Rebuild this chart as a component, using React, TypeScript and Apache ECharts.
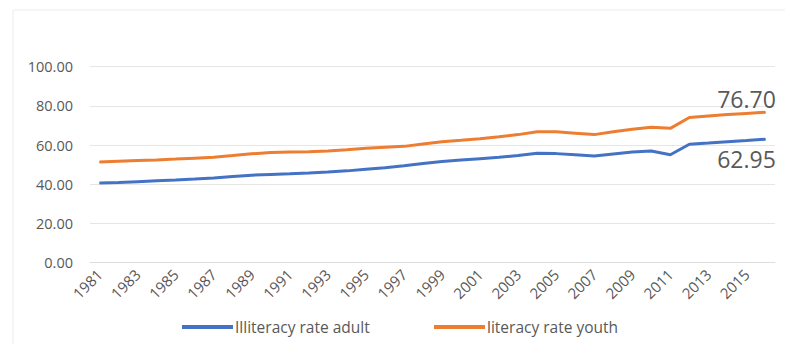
import React, { useEffect, useRef } from "react";
import * as echarts from "echarts";

const years: string[] = [];
for (let y = 1981; y <= 2016; y++) years.push(String(y));

const adultIlliteracy = [
  40.6, 40.9, 41.3, 41.7, 42.1, 42.6, 43.2, 43.9, 44.6, 45.0,
  45.3, 45.7, 46.2, 46.8, 47.6, 48.4, 49.4, 50.6, 51.6, 52.3,
  53.0, 53.7, 54.6, 55.8, 55.6, 55.0, 54.4, 55.4, 56.4, 56.9,
  55.0, 60.4, 61.0, 61.7, 62.3, 62.95,
];

const youthLiteracy = [
  51.3, 51.7, 52.1, 52.4, 52.8, 53.3, 53.8, 54.6, 55.5, 56.2,
  56.4, 56.6, 57.0, 57.6, 58.3, 58.8, 59.3, 60.5, 61.7, 62.4,
  63.2, 64.2, 65.3, 66.8, 66.7, 66.0, 65.3, 66.8, 68.0, 69.0,
  68.5, 74.0, 74.8, 75.5, 76.1, 76.7,
];

const seriesNames = ["Illiteracy rate adult", "literacy rate youth"];
const seriesColors = ["#4472C4", "#ED7D31"];

const FONT = "'Open Sans', Lato, sans-serif";
const TEXT = "#595959";

// Only the final point of each series carries a value label.
function withEndLabel(values: number[], position: "top" | "bottom", distance: number) {
  return values.map((v, i) =>
    i === values.length - 1
      ? {
          value: v,
          label: {
            show: true,
            position,
            distance,
            offset: [-19, 0],
            formatter: (p: any) => Number(p.value).toFixed(2),
            fontSize: 23,
            color: TEXT,
            fontFamily: FONT,
          },
        }
      : v
  );
}

function legendAt(left: number, name: string) {
  return {
    left,
    top: 314,
    itemWidth: 51,
    itemHeight: 4,
    itemGap: 0,
    icon: "rect",
    textStyle: { fontSize: 15.5, color: TEXT, fontFamily: FONT, padding: [0, 0, 0, -3] },
    data: [name],
  };
}

export default function App() {
  const ref = useRef<HTMLDivElement>(null);

  useEffect(() => {
    if (!ref.current) return;
    const chart = echarts.init(ref.current, undefined, { renderer: "svg" });
    chart.setOption({
      animation: false,
      backgroundColor: "#ffffff",
      textStyle: { fontFamily: FONT },
      graphic: [
        {
          type: "rect",
          shape: { x: 13, y: 10, width: 800, height: 400 },
          style: { fill: "none", stroke: "#ececec", lineWidth: 1 },
          silent: true,
        },
      ],
      grid: { left: 90, right: 10, top: 66.6, bottom: 81.4, containLabel: false },
      legend: [legendAt(177, seriesNames[0]), legendAt(429, seriesNames[1])],
      xAxis: {
        type: "category",
        data: years,
        boundaryGap: true,
        axisLine: { show: true, lineStyle: { color: "#dedede" } },
        axisTick: { show: false },
        axisLabel: {
          interval: 1,
          rotate: 45,
          fontSize: 15,
          color: TEXT,
          fontFamily: FONT,
          margin: 9,
        },
      },
      yAxis: {
        type: "value",
        min: 0,
        max: 100,
        interval: 20,
        axisLine: { show: false },
        axisTick: { show: false },
        splitLine: { lineStyle: { color: "#e6e6e6" } },
        axisLabel: {
          formatter: (v: number) => v.toFixed(2),
          fontSize: 14.5,
          color: TEXT,
          fontFamily: FONT,
          margin: 17,
        },
      },
      series: [
        {
          name: seriesNames[0],
          type: "line",
          data: withEndLabel(adultIlliteracy, "bottom", 8),
          symbol: "circle",
          symbolSize: 1,
          showSymbol: true,
          color: seriesColors[0],
          itemStyle: { color: seriesColors[0] },
          lineStyle: { width: 3, color: seriesColors[0] },
        },
        {
          name: seriesNames[1],
          type: "line",
          data: withEndLabel(youthLiteracy, "top", 1),
          symbol: "circle",
          symbolSize: 1,
          showSymbol: true,
          color: seriesColors[1],
          itemStyle: { color: seriesColors[1] },
          lineStyle: { width: 3, color: seriesColors[1] },
        },
      ],
    });
    return () => chart.dispose();
  }, []);

  return (
    <div
      ref={ref}
      style={{ position: "fixed", left: 0, top: 0, width: 785, height: 344 }}
    />
  );
}
